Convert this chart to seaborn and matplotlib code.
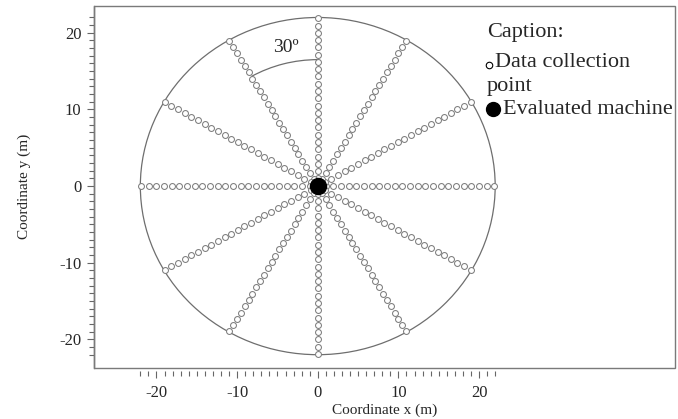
import numpy as np
import pandas as pd
import matplotlib
matplotlib.use("Agg")
from matplotlib import pyplot as plt
from matplotlib.patches import Ellipse, Arc, Rectangle
from matplotlib.ticker import FixedLocator
import seaborn as sns

# sampling layout: 12 transects every 30 degrees, points along each radius (m)
angles_deg = [0, 30, 60, 90, 120, 150, 180, 210, 240, 270, 300, 330]
radii_m = [1.0, 1.95, 2.9, 3.85, 4.8, 5.75, 6.7, 7.65, 8.6, 9.55, 10.5, 11.45,
           12.4, 13.35, 14.3, 15.25, 16.2, 17.15, 18.1, 19.05, 20.0, 20.95, 21.9]
area_radius = 22
machine_x = [0]
machine_y = [0]
arc_radius = 16.5
arc_from, arc_to = 90, 120

x_major = [-20, -10, 0, 10, 20]
y_major = [-20, -10, 0, 10, 20]
minor_ticks = list(range(-22, 23))

rows = []
for a in angles_deg:
    for r in radii_m:
        rows.append({"angle": a, "r": r,
                     "x": r * np.cos(np.radians(a)),
                     "y": r * np.sin(np.radians(a))})
pts = pd.DataFrame(rows)
machine = pd.DataFrame({"x": machine_x, "y": machine_y})

sns.set_style("white")
plt.rcParams["font.family"] = ["Liberation Serif", "DejaVu Serif"]

fig = plt.figure(figsize=(6.78, 4.19), dpi=100)
ax = fig.add_axes([0.1386, 0.1224, 0.857, 0.8633])

frame_col = "#7a7a7a"
ax.add_patch(Ellipse((0, 0), 2 * area_radius, 2 * area_radius, fill=False,
                     edgecolor="#6e6e6e", lw=0.9))
ax.add_patch(Arc((0, 0), 2 * arc_radius, 2 * arc_radius, theta1=arc_from,
                 theta2=arc_to, edgecolor="#6e6e6e", lw=0.9))

sns.scatterplot(data=pts, x="x", y="y", ax=ax, s=18, marker="o",
                facecolor="white", edgecolor="#7d7d7d", linewidth=0.75,
                legend=False, zorder=3)
sns.scatterplot(data=machine, x="x", y="y", ax=ax, s=135, color="black",
                edgecolor="black", legend=False, zorder=4)

ax.text(-3.9, 18.1, "30º", fontsize=14, ha="center", va="center")

# caption block
ax.text(21.0, 20.0, "Caption:", fontsize=16, ha="left", va="center")
ax.scatter([21.2], [15.8], s=22, facecolor="white", edgecolor="black",
           linewidth=0.8, zorder=5)
ax.text(22.0, 16.1, "Data collection", fontsize=16, ha="left", va="center")
ax.text(21.0, 13.0, "point", fontsize=16, ha="left", va="center")
ax.scatter([21.75], [10.0], s=100, color="black", zorder=5)
ax.text(23.0, 10.0, "Evaluated machine", fontsize=16, ha="left", va="center")

ax.set_xlim(-27.75, 44.3)
ax.set_ylim(-23.7, 23.5)

ax.xaxis.set_major_locator(FixedLocator(x_major))
ax.xaxis.set_minor_locator(FixedLocator(minor_ticks))
ax.yaxis.set_major_locator(FixedLocator(y_major))
ax.yaxis.set_minor_locator(FixedLocator(minor_ticks))
ax.set_xticklabels([str(v) for v in x_major])
ax.set_yticklabels([str(v) for v in y_major])

for s in ["top", "right", "bottom"]:
    ax.spines[s].set_visible(False)
ax.spines["bottom"].set_position(("outward", 2.5))
ax.spines["left"].set_color("#666666")
ax.spines["left"].set_linewidth(1.0)
ax.add_patch(Rectangle((0, 0), 1, 1, transform=ax.transAxes, fill=False,
                       edgecolor=frame_col, lw=1.0, clip_on=False, zorder=6))

ax.tick_params(axis="both", which="major", direction="out", length=5,
               width=0.8, color="#666666", labelsize=12, pad=2,
               bottom=True, left=True)
ax.tick_params(axis="both", which="minor", direction="out", length=3.5,
               width=0.8, color="#666666", bottom=True, left=True)
ax.tick_params(axis="x", which="major", pad=5)
ax.tick_params(axis="y", which="major", pad=4)

ax.set_xlabel("Coordinate x (m)", fontsize=11, labelpad=2)
ax.set_ylabel("Coordinate y (m)", fontsize=11, labelpad=20)

fig.savefig("out.png", dpi=100)
